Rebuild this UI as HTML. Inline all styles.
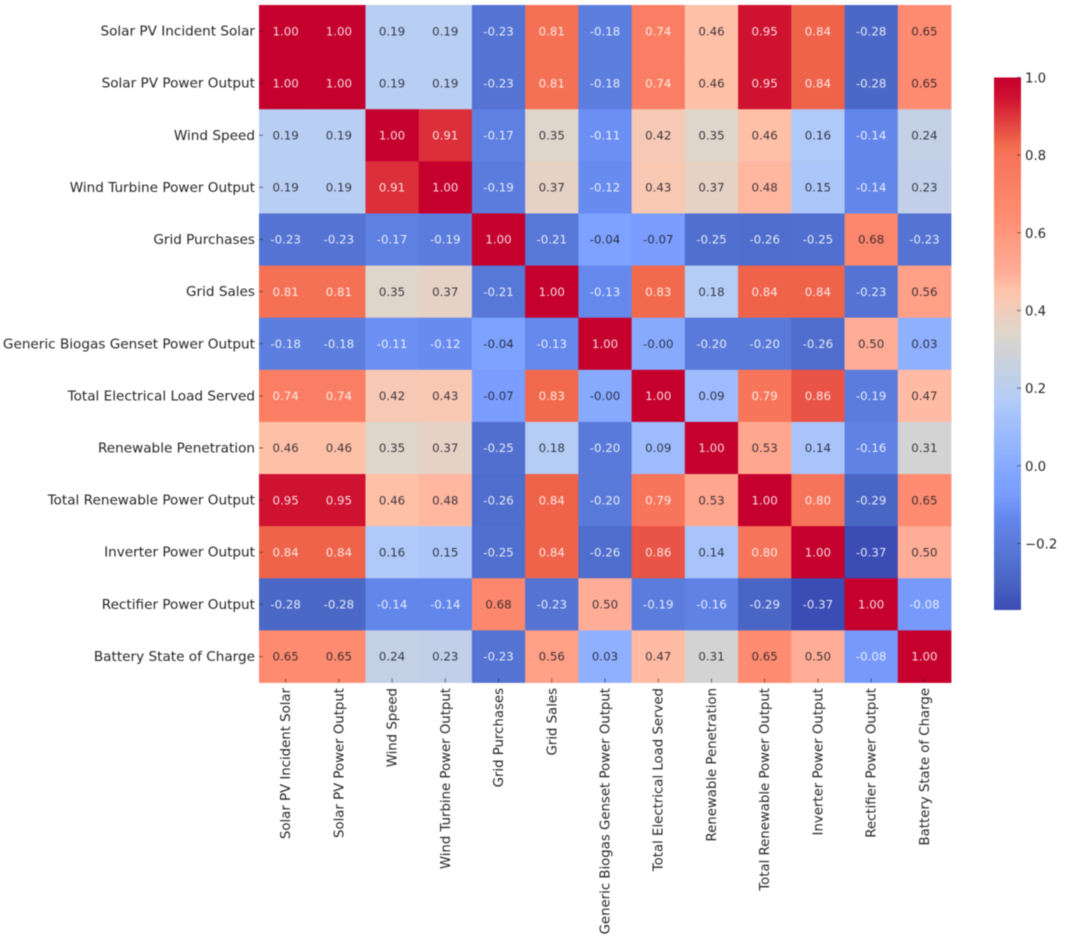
<!DOCTYPE html>
<html>
<head>
<meta charset="utf-8">
<title>Correlation heatmap</title>
<style>
html,body{margin:0;padding:0;background:#fff;width:1065px;height:941px;overflow:hidden}
svg{display:block;filter:blur(0.4px)}
text{font-family:"DejaVu Sans","Liberation Sans",sans-serif;fill:#262626}
</style>
</head>
<body>
<svg id="chart" width="1065" height="941" viewBox="0 0 1065 941" xmlns="http://www.w3.org/2000/svg">
  <g id="cells"></g>
  <g id="xlabels"></g>
  <g id="ylabels"></g>
  <g id="colorbar"></g>
</svg>
<script>
var categories = ["Solar PV Incident Solar","Solar PV Power Output","Wind Speed","Wind Turbine Power Output","Grid Purchases","Grid Sales","Generic Biogas Genset Power Output","Total Electrical Load Served","Renewable Penetration","Total Renewable Power Output","Inverter Power Output","Rectifier Power Output","Battery State of Charge"];
var rowSolarIncident = [1,1,0.19,0.19,-0.23,0.81,-0.18,0.74,0.46,0.95,0.84,-0.28,0.65];
var rowSolarOutput = [1,1,0.19,0.19,-0.23,0.81,-0.18,0.74,0.46,0.95,0.84,-0.28,0.65];
var rowWindSpeed = [0.19,0.19,1,0.91,-0.17,0.35,-0.11,0.42,0.35,0.46,0.16,-0.14,0.24];
var rowWindTurbine = [0.19,0.19,0.91,1,-0.19,0.37,-0.12,0.43,0.37,0.48,0.15,-0.14,0.23];
var rowGridPurchases = [-0.23,-0.23,-0.17,-0.19,1,-0.21,-0.04,-0.07,-0.25,-0.26,-0.25,0.68,-0.23];
var rowGridSales = [0.81,0.81,0.35,0.37,-0.21,1,-0.13,0.83,0.18,0.84,0.84,-0.23,0.56];
var rowBiogas = [-0.18,-0.18,-0.11,-0.12,-0.04,-0.13,1,-0.001,-0.20,-0.20,-0.26,0.50,0.03];
var rowLoadServed = [0.74,0.74,0.42,0.43,-0.07,0.83,-0.001,1,0.09,0.79,0.86,-0.19,0.47];
var rowPenetration = [0.46,0.46,0.35,0.37,-0.25,0.18,-0.20,0.09,1,0.53,0.14,-0.16,0.31];
var rowRenewable = [0.95,0.95,0.46,0.48,-0.26,0.84,-0.20,0.79,0.53,1,0.80,-0.29,0.65];
var rowInverter = [0.84,0.84,0.16,0.15,-0.25,0.84,-0.26,0.86,0.14,0.80,1,-0.37,0.50];
var rowRectifier = [-0.28,-0.28,-0.14,-0.14,0.68,-0.23,0.50,-0.19,-0.16,-0.29,-0.37,1,-0.08];
var rowBattery = [0.65,0.65,0.24,0.23,-0.23,0.56,0.03,0.47,0.31,0.65,0.50,-0.08,1];
var matrix = [rowSolarIncident,rowSolarOutput,rowWindSpeed,rowWindTurbine,rowGridPurchases,rowGridSales,rowBiogas,rowLoadServed,rowPenetration,rowRenewable,rowInverter,rowRectifier,rowBattery];
var colorbarTicks = [1.0,0.8,0.6,0.4,0.2,0.0,-0.2];
var colorbarLabels = ["1.0","0.8","0.6","0.4","0.2","0.0","\u22120.2"];

var NS = "http://www.w3.org/2000/svg";
var plot = {left:259, right:951, top:5, bottom:682.5};
var bar = {left:994, right:1021, top:77.5, bottom:609.5};
var vmin = -0.37, vmax = 1;

function xBand(i){ return plot.left + i * (plot.right - plot.left) / categories.length; }
function yBand(i){ return plot.top + i * (plot.bottom - plot.top) / categories.length; }
function barY(v){ return bar.top + (vmax - v) / (vmax - vmin) * (bar.bottom - bar.top); }

var stopPos = [0,0.058,0.117,0.175,0.22,0.243,0.29,0.372,0.4,0.496,0.52,0.6,0.635,0.745,0.854,0.876,0.964,1];
var stopRgb = [[59,76,180],[74,102,197],[88,120,216],[100,136,236],[122,157,255],[125,162,255],[142,176,255],[168,196,251],[181,205,245],[211,211,211],[222,214,205],[255,196,172],[255,173,151],[255,140,112],[246,116,90],[242,106,77],[207,17,48],[197,0,45]];
function color(v){
  var t = Math.max(0, Math.min(1, (v - vmin) / (vmax - vmin)));
  var i = 0;
  while (i < stopPos.length - 2 && t > stopPos[i + 1]) i++;
  var f = (t - stopPos[i]) / (stopPos[i + 1] - stopPos[i]);
  var c = [0,1,2].map(function(k){ return Math.round(stopRgb[i][k] + f * (stopRgb[i + 1][k] - stopRgb[i][k])); });
  return "rgb(" + c.join(",") + ")";
}
function make(tag, attrs, parent){
  var el = document.createElementNS(NS, tag);
  for (var k in attrs) el.setAttribute(k, attrs[k]);
  parent.appendChild(el);
  return el;
}

var gCells = document.getElementById("cells");
var gX = document.getElementById("xlabels");
var gY = document.getElementById("ylabels");
var gBar = document.getElementById("colorbar");
var cw = xBand(1) - xBand(0), ch = yBand(1) - yBand(0);

matrix.forEach(function(row, r){
  row.forEach(function(v, c){
    var rect = make("rect", {x:xBand(c), y:yBand(r), width:cw + 0.4, height:ch + 0.4, fill:color(v)}, gCells);
    
    
  });
});
matrix.forEach(function(row, r){
  row.forEach(function(v, c){
    var light = v < -0.075 || v > 0.7;
    var t = make("text", {x:xBand(c) + cw / 2, y:yBand(r) + ch / 2 + 4.2, "text-anchor":"middle", "font-size":"11.8"}, gCells);
    t.style.fill = light ? "#ffffff" : "#161620";
    t.style.fillOpacity = light ? "0.85" : "0.82";
    t.textContent = v.toFixed(2);
    
    
  });
});

categories.forEach(function(name, i){
  var yc = yBand(i) + ch / 2;
  var xc = xBand(i) + cw / 2;
  var yt = make("line", {x1:plot.left, x2:plot.left + 4, y1:yc, y2:yc, stroke:"#222222", "stroke-opacity":"0.6", "stroke-width":"1"}, gY);
  
  
  var yl = make("text", {x:255, y:yc + 4.5, "text-anchor":"end", "font-size":"13.6"}, gY);
  yl.textContent = name;
  
  
  var xt = make("line", {x1:xc, x2:xc, y1:plot.bottom - 4, y2:plot.bottom, stroke:"#222222", "stroke-opacity":"0.6", "stroke-width":"1"}, gX);
  
  
  var xl = make("text", {x:0, y:0, "text-anchor":"end", "font-size":"13.6", transform:"translate(" + (xc + 4.5) + "," + (plot.bottom + 5.5) + ") rotate(-90) scale(0.978,1)"}, gX);
  xl.textContent = name;
  
  
});

var steps = 266;
for (var s = 0; s < steps; s++) {
  var v0 = vmax - s * (vmax - vmin) / steps;
  var y0 = barY(v0);
  var seg = make("rect", {x:bar.left, y:y0, width:bar.right - bar.left, height:(bar.bottom - bar.top) / steps + 0.5, fill:color(v0)}, gBar);
  
  
}
colorbarTicks.forEach(function(v, i){
  var y = barY(v);
  var tick = make("line", {x1:bar.right - 4, x2:bar.right, y1:y, y2:y, stroke:"#222222", "stroke-opacity":"0.6", "stroke-width":"1"}, gBar);
  
  
  var label = make("text", {x:bar.right + 4, y:y + 5, "font-size":"13.3"}, gBar);
  label.textContent = colorbarLabels[i];
  
  
});
</script>
</body>
</html>
